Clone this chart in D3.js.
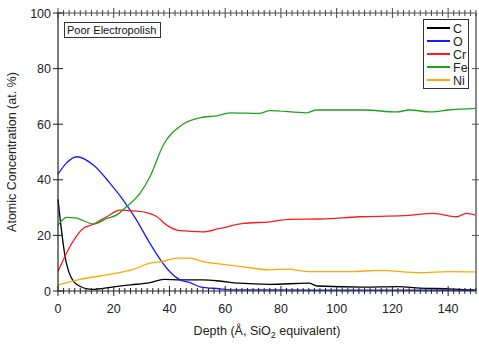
<!DOCTYPE html>
<html>
<head>
<meta charset="utf-8">
<script src="https://cdn.jsdelivr.net/npm/d3@7"></script>
<style>
  body { margin: 0; background: #fff; }
  svg { display: block; font-family: Arial, "Liberation Sans", sans-serif; }
</style>
</head>
<body>
<div id="chart"></div>
<script>
// ── Data ────────────────────────────────────────────────────
const seriesNames = ["C", "O", "Cr", "Fe", "Ni"];
const seriesColors = ["#000000", "#1a1aff", "#ff1a1a", "#1fa01f", "#ffaa00"];

const depthC = [0, 3, 6.5, 12, 20, 26, 33, 38, 44, 52, 58, 65, 76, 90, 93, 110, 122, 130, 140, 150];
const valC   = [33, 10, 2.5, 0.6, 1.5, 2.2, 3, 4.2, 4, 4, 3.6, 2.8, 2.4, 2.8, 1.8, 1.4, 1.6, 1.0, 0.8, 0.3];

const depthO = [0, 3, 6.7, 12.7, 18.7, 23.4, 28.2, 33, 39, 43.8, 47.4, 51, 58, 62, 80, 100, 120, 150];
const valO   = [42, 46, 48.3, 45.3, 38.7, 32.7, 25.5, 17.1, 8.2, 4, 3, 1.5, 0.8, 0.4, 0.4, 0.3, 0.3, 0.3];

const depthCr = [0, 4.3, 9, 12.7, 17.5, 22.2, 27, 31.8, 35.4, 39, 43.8, 52, 58, 66.5, 76, 83, 94, 108, 124, 134.7, 143, 146.6, 150];
const valCr   = [7, 16, 22.5, 24, 26.7, 29.1, 28.8, 28.2, 26.8, 23.7, 21.7, 21.3, 22.5, 24.3, 24.9, 25.8, 25.9, 26.7, 27.1, 27.9, 26.7, 27.9, 27.3];

const depthFe = [0, 3.1, 6.7, 12.7, 17.5, 21, 24.6, 29.4, 33, 37.8, 44.4, 52, 57, 61.7, 72.5, 76, 89.2, 92.8, 110, 121.5, 126, 134, 140, 150];
const valFe   = [23.7, 26.5, 26.2, 24.1, 26.1, 27.3, 30.3, 35.1, 41.1, 52.5, 59.7, 62.5, 63, 64.1, 63.9, 64.9, 64.1, 65.1, 65.1, 64.4, 65.1, 64.4, 65.1, 65.7];

const depthNi = [0, 7.9, 15, 21, 27, 33, 37.8, 42.6, 47.4, 52, 59.3, 66.5, 76, 82, 90.4, 105, 115.5, 130, 140, 150];
const valNi   = [2.2, 4.2, 5.4, 6.4, 7.8, 10, 10.7, 11.8, 11.8, 10.6, 9.6, 8.7, 7.6, 7.9, 7, 7, 7.4, 6.6, 7, 6.9];

const xMajorTicks = [0, 20, 40, 60, 80, 100, 120, 140];
const yMajorTicks = [0, 20, 40, 60, 80, 100];

const depths = [depthC, depthO, depthCr, depthFe, depthNi];
const values = [valC, valO, valCr, valFe, valNi];

// ── Layout ──────────────────────────────────────────────────
const W = 479, H = 344;
const M = { left: 58, right: 3, top: 13, bottom: 53 };

const svg = d3.select("#chart").append("svg")
  .attr("width", W).attr("height", H);

const x = d3.scaleLinear().domain([0, 150]).range([M.left, W - M.right]);
const y = d3.scaleLinear().domain([0, 100]).range([H - M.bottom, M.top]);

const axisDark = "#222";
const axisGray = "#8a8a8a";
const xMinor = d3.range(0, 151, 2).filter(v => v % 20 !== 0);

// ── Curves ──────────────────────────────────────────────────
const line = d3.line().x(d => x(d[0])).y(d => y(d[1])).curve(d3.curveMonotoneX);

const plot = svg.append("g");
seriesNames.forEach((name, i) => {
  const pts = depths[i].map((d, j) => [d, values[i][j]]);
  plot.append("path")
    .datum(pts)
    .attr("fill", "none")
    .attr("stroke", seriesColors[i])
    .attr("stroke-width", 1.3)
    .attr("d", line);
});

// ── Axes: top & right grey frame ────────────────────────────
svg.append("line")
  .attr("x1", x(0)).attr("x2", x(150)).attr("y1", y(100)).attr("y2", y(100))
  .attr("stroke", axisGray).attr("stroke-width", 1.5);
svg.append("line")
  .attr("x1", x(150)).attr("x2", x(150)).attr("y1", y(100)).attr("y2", y(0))
  .attr("stroke", axisGray).attr("stroke-width", 2);

// tick marks crossing the frame lines
function tickSet(g, vals, len, horizontal, pos, color) {
  g.selectAll(null).data(vals).enter().append("line")
    .attr("x1", d => horizontal ? x(d) : pos - len)
    .attr("x2", d => horizontal ? x(d) : pos + len)
    .attr("y1", d => horizontal ? pos - len : y(d))
    .attr("y2", d => horizontal ? pos + len : y(d))
    .attr("stroke", color).attr("stroke-width", 1);
}
const ticks = svg.append("g");
tickSet(ticks, xMinor, 3, true, y(100), "#444");
tickSet(ticks, xMajorTicks, 5, true, y(100), "#444");
tickSet(ticks, yMajorTicks.slice(1, -1), 4, false, x(150), "#555");

// left & bottom dark axes
svg.append("line")
  .attr("x1", x(0)).attr("x2", x(0)).attr("y1", y(100) - 0.5).attr("y2", y(0))
  .attr("stroke", axisDark).attr("stroke-width", 1.2);
svg.append("line")
  .attr("x1", x(0)).attr("x2", x(150)).attr("y1", y(0)).attr("y2", y(0))
  .attr("stroke", axisDark).attr("stroke-width", 1.2);

tickSet(ticks, xMinor, 3, true, y(0), axisDark);
tickSet(ticks, xMajorTicks, 5, true, y(0), axisDark);
tickSet(ticks, yMajorTicks, 5, false, x(0), axisDark);

// tick labels
svg.append("g").selectAll("text").data(xMajorTicks).enter().append("text")
  .attr("x", d => x(d)).attr("y", y(0) + 22)
  .attr("text-anchor", "middle").attr("font-size", 12.5).attr("fill", axisDark)
  .text(d => d);
svg.append("g").selectAll("text").data(yMajorTicks).enter().append("text")
  .attr("x", x(0) - 7).attr("y", d => y(d) + 4.5)
  .attr("text-anchor", "end").attr("font-size", 12.5).attr("fill", axisDark)
  .text(d => d);

// axis titles
svg.append("text")
  .attr("transform", `translate(16,${(y(0) + y(100)) / 2}) rotate(-90)`)
  .attr("text-anchor", "middle").attr("font-size", 12.5).attr("fill", axisDark)
  .text("Atomic Concentration (at. %)");

const xt = svg.append("text")
  .attr("x", (x(0) + x(150)) / 2 + 0).attr("y", 335)
  .attr("text-anchor", "middle").attr("font-size", 12.5).attr("fill", axisDark);
xt.append("tspan").text("Depth (Å, SiO");
xt.append("tspan").attr("font-size", 9).attr("dy", 3).text("2");
xt.append("tspan").attr("dy", -3).text(" equivalent)");

// ── Annotation box ──────────────────────────────────────────
const note = svg.append("g");
note.append("rect")
  .attr("x", 64.5).attr("y", 22.5).attr("width", 96).attr("height", 15)
  .attr("fill", "#fff").attr("stroke", "#333").attr("stroke-width", 1);
note.append("text")
  .attr("x", 67).attr("y", 34).attr("font-size", 11).attr("fill", "#111")
  .text("Poor Electropolish");

// ── Legend ──────────────────────────────────────────────────
const lg = svg.append("g");
lg.append("rect")
  .attr("x", 423.5).attr("y", 19.5).attr("width", 45).attr("height", 69)
  .attr("fill", "#fff").attr("stroke", "#333").attr("stroke-width", 1);
seriesNames.forEach((name, i) => {
  const ly = 28 + i * 13;
  lg.append("line")
    .attr("x1", 427).attr("x2", 450).attr("y1", ly).attr("y2", ly)
    .attr("stroke", seriesColors[i]).attr("stroke-width", 2);
  lg.append("text")
    .attr("x", 453).attr("y", ly + 4.5).attr("font-size", 12.5).attr("fill", "#222")
    .text(name);
});
</script>
</body>
</html>
